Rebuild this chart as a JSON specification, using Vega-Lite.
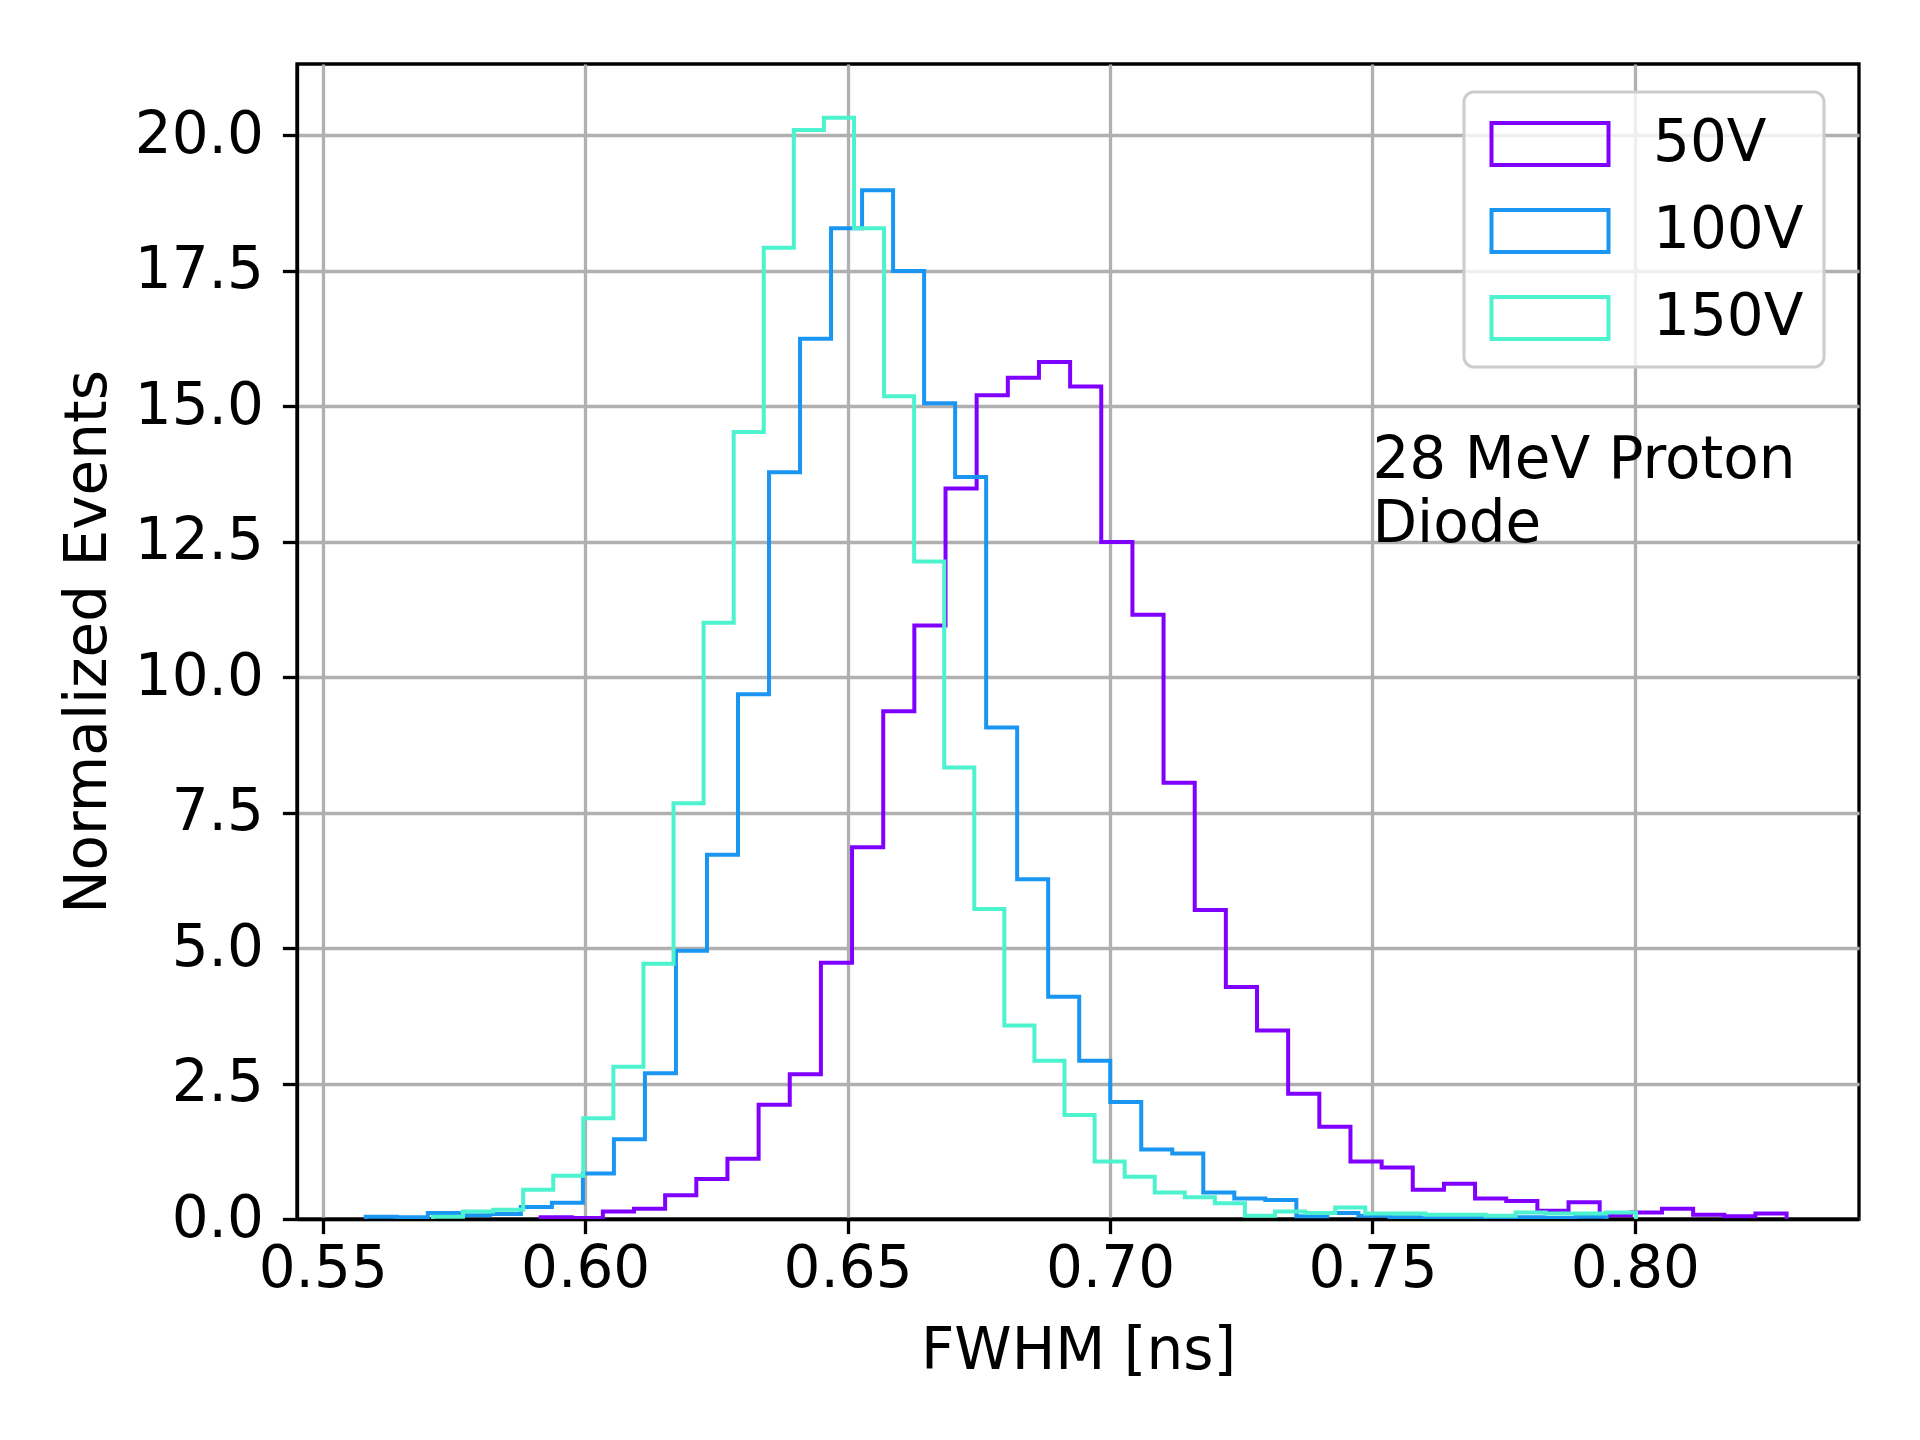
{
  "$schema": "https://vega.github.io/schema/vega-lite/v6.json",
  "width": 1562,
  "height": 1155,
  "autosize": "none",
  "padding": {"left": 297, "top": 64, "right": 61, "bottom": 221},
  "background": "white",
  "config": {
    "font": "DejaVu Sans",
    "view": {"stroke": "black", "strokeWidth": 3.3},
    "axis": {
      "labelFont": "DejaVu Sans",
      "labelFontSize": 58,
      "labelColor": "black",
      "titleFont": "DejaVu Sans",
      "titleFontSize": 58,
      "titleFontWeight": "normal",
      "titleColor": "black",
      "domainColor": "black",
      "domainWidth": 3.3,
      "tickColor": "black",
      "tickWidth": 3.3,
      "tickSize": 14.6,
      "gridColor": "#b0b0b0",
      "gridWidth": 3.3,
      "gridOpacity": 1
    },
    "legend": {
      "labelFont": "DejaVu Sans",
      "labelFontSize": 58,
      "labelColor": "black",
      "strokeWidth": 3
    }
  },
  "layer": [
    {
      "data": {
        "values": [
          {"s": "50V", "i": 0, "x": 0.5915, "h": 0},
          {"s": "50V", "i": 1, "x": 0.5915, "h": 0.03},
          {"s": "50V", "i": 2, "x": 0.59744, "h": 0.02},
          {"s": "50V", "i": 3, "x": 0.60337, "h": 0.14},
          {"s": "50V", "i": 4, "x": 0.60931, "h": 0.19},
          {"s": "50V", "i": 5, "x": 0.61524, "h": 0.44},
          {"s": "50V", "i": 6, "x": 0.62118, "h": 0.74},
          {"s": "50V", "i": 7, "x": 0.62711, "h": 1.11},
          {"s": "50V", "i": 8, "x": 0.63305, "h": 2.11},
          {"s": "50V", "i": 9, "x": 0.63898, "h": 2.67},
          {"s": "50V", "i": 10, "x": 0.64492, "h": 4.73},
          {"s": "50V", "i": 11, "x": 0.65085, "h": 6.86},
          {"s": "50V", "i": 12, "x": 0.65679, "h": 9.37},
          {"s": "50V", "i": 13, "x": 0.66272, "h": 10.95},
          {"s": "50V", "i": 14, "x": 0.66866, "h": 13.48},
          {"s": "50V", "i": 15, "x": 0.67459, "h": 15.2},
          {"s": "50V", "i": 16, "x": 0.68053, "h": 15.52},
          {"s": "50V", "i": 17, "x": 0.68646, "h": 15.81},
          {"s": "50V", "i": 18, "x": 0.6924, "h": 15.36},
          {"s": "50V", "i": 19, "x": 0.69833, "h": 12.49},
          {"s": "50V", "i": 20, "x": 0.70427, "h": 11.15},
          {"s": "50V", "i": 21, "x": 0.7102, "h": 8.05},
          {"s": "50V", "i": 22, "x": 0.71614, "h": 5.7},
          {"s": "50V", "i": 23, "x": 0.72207, "h": 4.28},
          {"s": "50V", "i": 24, "x": 0.72801, "h": 3.48},
          {"s": "50V", "i": 25, "x": 0.73394, "h": 2.31},
          {"s": "50V", "i": 26, "x": 0.73988, "h": 1.7},
          {"s": "50V", "i": 27, "x": 0.74581, "h": 1.06},
          {"s": "50V", "i": 28, "x": 0.75175, "h": 0.95},
          {"s": "50V", "i": 29, "x": 0.75768, "h": 0.54},
          {"s": "50V", "i": 30, "x": 0.76362, "h": 0.65},
          {"s": "50V", "i": 31, "x": 0.76955, "h": 0.38},
          {"s": "50V", "i": 32, "x": 0.77549, "h": 0.33},
          {"s": "50V", "i": 33, "x": 0.78142, "h": 0.15},
          {"s": "50V", "i": 34, "x": 0.78736, "h": 0.31},
          {"s": "50V", "i": 35, "x": 0.79329, "h": 0.07},
          {"s": "50V", "i": 36, "x": 0.79923, "h": 0.12},
          {"s": "50V", "i": 37, "x": 0.80516, "h": 0.19},
          {"s": "50V", "i": 38, "x": 0.8111, "h": 0.08},
          {"s": "50V", "i": 39, "x": 0.81703, "h": 0.05},
          {"s": "50V", "i": 40, "x": 0.82297, "h": 0.1},
          {"s": "50V", "i": 41, "x": 0.8289, "h": 0},
          {"s": "100V", "i": 0, "x": 0.5582, "h": 0},
          {"s": "100V", "i": 1, "x": 0.5582, "h": 0.04},
          {"s": "100V", "i": 2, "x": 0.56411, "h": 0.03},
          {"s": "100V", "i": 3, "x": 0.57002, "h": 0.11},
          {"s": "100V", "i": 4, "x": 0.57593, "h": 0.07},
          {"s": "100V", "i": 5, "x": 0.58184, "h": 0.09},
          {"s": "100V", "i": 6, "x": 0.58775, "h": 0.22},
          {"s": "100V", "i": 7, "x": 0.59366, "h": 0.3},
          {"s": "100V", "i": 8, "x": 0.59957, "h": 0.84},
          {"s": "100V", "i": 9, "x": 0.60548, "h": 1.47},
          {"s": "100V", "i": 10, "x": 0.61139, "h": 2.69},
          {"s": "100V", "i": 11, "x": 0.6173, "h": 4.95},
          {"s": "100V", "i": 12, "x": 0.62321, "h": 6.72},
          {"s": "100V", "i": 13, "x": 0.62912, "h": 9.68},
          {"s": "100V", "i": 14, "x": 0.63503, "h": 13.78},
          {"s": "100V", "i": 15, "x": 0.64094, "h": 16.24},
          {"s": "100V", "i": 16, "x": 0.64685, "h": 18.28},
          {"s": "100V", "i": 17, "x": 0.65276, "h": 18.98},
          {"s": "100V", "i": 18, "x": 0.65867, "h": 17.49},
          {"s": "100V", "i": 19, "x": 0.66458, "h": 15.05},
          {"s": "100V", "i": 20, "x": 0.67049, "h": 13.69},
          {"s": "100V", "i": 21, "x": 0.6764, "h": 9.07},
          {"s": "100V", "i": 22, "x": 0.68231, "h": 6.27},
          {"s": "100V", "i": 23, "x": 0.68822, "h": 4.1},
          {"s": "100V", "i": 24, "x": 0.69413, "h": 2.92},
          {"s": "100V", "i": 25, "x": 0.70004, "h": 2.16},
          {"s": "100V", "i": 26, "x": 0.70595, "h": 1.28},
          {"s": "100V", "i": 27, "x": 0.71186, "h": 1.21},
          {"s": "100V", "i": 28, "x": 0.71777, "h": 0.49},
          {"s": "100V", "i": 29, "x": 0.72368, "h": 0.38},
          {"s": "100V", "i": 30, "x": 0.72959, "h": 0.35},
          {"s": "100V", "i": 31, "x": 0.7355, "h": 0.05},
          {"s": "100V", "i": 32, "x": 0.74141, "h": 0.11},
          {"s": "100V", "i": 33, "x": 0.74732, "h": 0.06},
          {"s": "100V", "i": 34, "x": 0.75323, "h": 0.03},
          {"s": "100V", "i": 35, "x": 0.75914, "h": 0.02},
          {"s": "100V", "i": 36, "x": 0.76505, "h": 0.02},
          {"s": "100V", "i": 37, "x": 0.77096, "h": 0.03},
          {"s": "100V", "i": 38, "x": 0.77687, "h": 0.03},
          {"s": "100V", "i": 39, "x": 0.78278, "h": 0.02},
          {"s": "100V", "i": 40, "x": 0.78869, "h": 0.04},
          {"s": "100V", "i": 41, "x": 0.7946, "h": 0},
          {"s": "150V", "i": 0, "x": 0.571, "h": 0},
          {"s": "150V", "i": 1, "x": 0.571, "h": 0.04},
          {"s": "150V", "i": 2, "x": 0.57673, "h": 0.14},
          {"s": "150V", "i": 3, "x": 0.58246, "h": 0.17},
          {"s": "150V", "i": 4, "x": 0.58819, "h": 0.54},
          {"s": "150V", "i": 5, "x": 0.59392, "h": 0.8},
          {"s": "150V", "i": 6, "x": 0.59965, "h": 1.86},
          {"s": "150V", "i": 7, "x": 0.60538, "h": 2.81},
          {"s": "150V", "i": 8, "x": 0.61111, "h": 4.71},
          {"s": "150V", "i": 9, "x": 0.61684, "h": 7.67},
          {"s": "150V", "i": 10, "x": 0.62257, "h": 11.0},
          {"s": "150V", "i": 11, "x": 0.6283, "h": 14.52},
          {"s": "150V", "i": 12, "x": 0.63403, "h": 17.92},
          {"s": "150V", "i": 13, "x": 0.63976, "h": 20.09},
          {"s": "150V", "i": 14, "x": 0.64549, "h": 20.32},
          {"s": "150V", "i": 15, "x": 0.65122, "h": 18.28},
          {"s": "150V", "i": 16, "x": 0.65695, "h": 15.18},
          {"s": "150V", "i": 17, "x": 0.66268, "h": 12.13},
          {"s": "150V", "i": 18, "x": 0.66841, "h": 8.33},
          {"s": "150V", "i": 19, "x": 0.67414, "h": 5.72},
          {"s": "150V", "i": 20, "x": 0.67987, "h": 3.57},
          {"s": "150V", "i": 21, "x": 0.6856, "h": 2.92},
          {"s": "150V", "i": 22, "x": 0.69133, "h": 1.92},
          {"s": "150V", "i": 23, "x": 0.69706, "h": 1.06},
          {"s": "150V", "i": 24, "x": 0.70279, "h": 0.78},
          {"s": "150V", "i": 25, "x": 0.70852, "h": 0.49},
          {"s": "150V", "i": 26, "x": 0.71425, "h": 0.4},
          {"s": "150V", "i": 27, "x": 0.71998, "h": 0.29},
          {"s": "150V", "i": 28, "x": 0.72571, "h": 0.06},
          {"s": "150V", "i": 29, "x": 0.73144, "h": 0.14},
          {"s": "150V", "i": 30, "x": 0.73717, "h": 0.11},
          {"s": "150V", "i": 31, "x": 0.7429, "h": 0.21},
          {"s": "150V", "i": 32, "x": 0.74863, "h": 0.1},
          {"s": "150V", "i": 33, "x": 0.75436, "h": 0.1},
          {"s": "150V", "i": 34, "x": 0.76009, "h": 0.08},
          {"s": "150V", "i": 35, "x": 0.76582, "h": 0.08},
          {"s": "150V", "i": 36, "x": 0.77155, "h": 0.06},
          {"s": "150V", "i": 37, "x": 0.77728, "h": 0.12},
          {"s": "150V", "i": 38, "x": 0.78301, "h": 0.1},
          {"s": "150V", "i": 39, "x": 0.78874, "h": 0.1},
          {"s": "150V", "i": 40, "x": 0.79447, "h": 0.12},
          {"s": "150V", "i": 41, "x": 0.8002, "h": 0}
        ]
      },
      "mark": {"type": "line", "interpolate": "step-after", "strokeWidth": 4, "clip": true},
      "encoding": {
        "x": {
          "field": "x",
          "type": "quantitative",
          "title": "FWHM [ns]",
          "scale": {"domain": [0.5451, 0.8427], "nice": false, "zero": false},
          "axis": {
            "values": [0.55, 0.6, 0.65, 0.7, 0.75, 0.8],
            "format": ".2f",
            "labelPadding": 7,
            "titlePadding": 24
          }
        },
        "y": {
          "field": "h",
          "type": "quantitative",
          "title": "Normalized Events",
          "scale": {"domain": [0, 21.31], "nice": false},
          "axis": {
            "values": [0, 2.5, 5, 7.5, 10, 12.5, 15, 17.5, 20],
            "format": ".1f",
            "labelPadding": 19,
            "titlePadding": 17
          }
        },
        "order": {"field": "i", "type": "quantitative"},
        "color": {
          "field": "s",
          "type": "nominal",
          "scale": {
            "domain": ["50V", "100V", "150V"],
            "range": ["#8000ff", "#1a96f2", "#4df2ce"]
          },
          "legend": {
            "title": null,
            "orient": "none",
            "legendX": 1167,
            "legendY": 28,
            "symbolType": "M-1.95,-0.7H1.95V0.7H-1.95Z",
            "symbolSize": 3600,
            "symbolStrokeWidth": 4,
            "symbolFillColor": "transparent",
            "symbolOffset": 34,
            "labelOffset": 71,
            "rowPadding": 26,
            "padding": 20,
            "cornerRadius": 10,
            "strokeColor": "#cccccc",
            "fillColor": "rgba(255,255,255,0.8)"
          }
        }
      }
    },
    {
      "data": {"values": [{"x": 0.75, "y": 12.5, "t": "28 MeV Proton\nDiode"}]},
      "mark": {
        "type": "text",
        "align": "left",
        "baseline": "alphabetic",
        "lineBreak": "\n",
        "lineHeight": 64,
        "dy": -64,
        "fontSize": 58,
        "font": "DejaVu Sans",
        "color": "black"
      },
      "encoding": {
        "x": {"field": "x", "type": "quantitative"},
        "y": {"field": "y", "type": "quantitative"},
        "text": {"field": "t"}
      }
    }
  ]
}
